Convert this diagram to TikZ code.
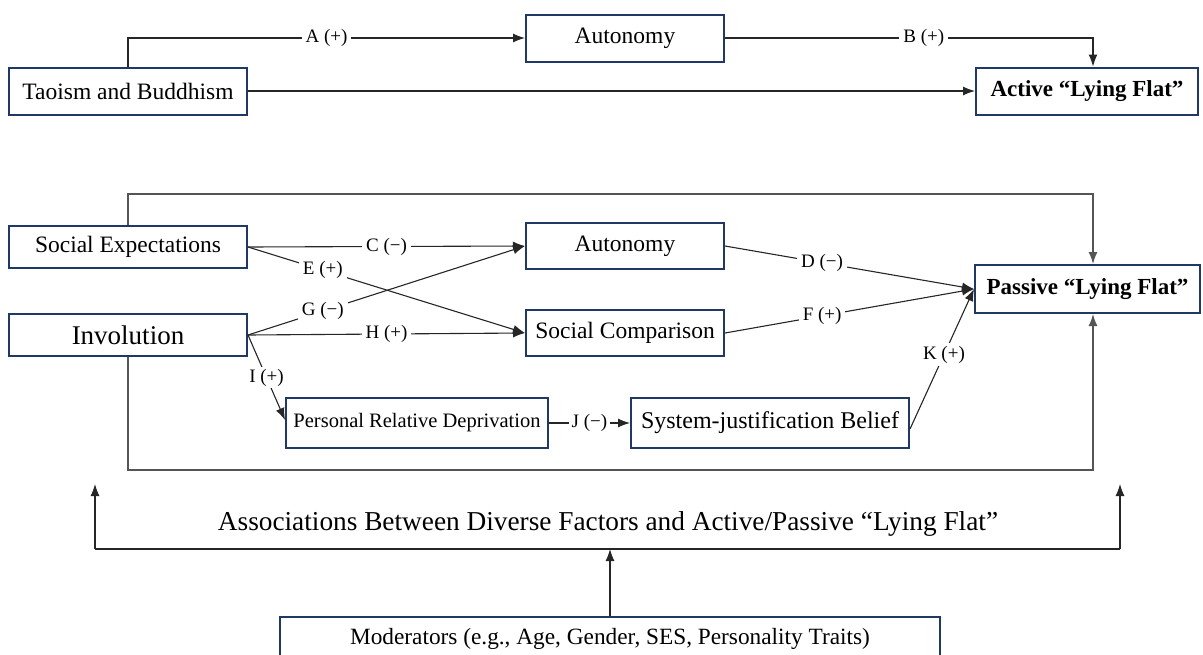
\documentclass[tikz,border=0pt]{standalone}
\usepackage{fontspec}
\setmainfont{Liberation Serif}
\usetikzlibrary{arrows.meta,calc}
\definecolor{boxc}{HTML}{1F3864}
\definecolor{framec}{HTML}{555555}
\begin{document}
\begin{tikzpicture}[x=1pt,y=1pt,
  box/.style={draw=boxc,line width=2pt,inner sep=0pt,minimum height=46pt,font=\fontsize{23.5}{28}\selectfont},
  lbl/.style={fill=white,inner sep=4pt,font=\fontsize{19}{22}\selectfont},
  conn/.style={draw=black!85,line width=1.1pt},
  arr/.style={conn,-{Latex[length=12pt,width=9pt]}},
  frame/.style={draw=framec,line width=1.4pt},
  farr/.style={frame,-{Latex[length=12pt,width=9pt]}}]
\useasboundingbox (0,0) rectangle (1203,-654);
% top
\node[box,minimum width=238pt,minimum height=47pt] (tb) at (128,-91) {Taoism and Buddhism};
\node[box,minimum width=198pt,minimum height=47pt] (aut1) at (625,-38) {Autonomy};
\node[box,minimum width=222pt,minimum height=47pt,font=\fontsize{23}{28}\selectfont\bfseries] (act) at (1087,-91) {Active “Lying Flat”};
\draw[arr] (tb.north) |- node[lbl,pos=0.75]{A (+)} (aut1.west);
\draw[arr] (aut1.east) -| node[lbl,pos=0.27]{B (+)} ([xshift=6pt]act.north);
\draw[arr] (tb.east) -- (act.west);
% middle
\node[box,minimum width=238pt,minimum height=42pt] (se) at (128,-247) {Social Expectations};
\node[box,minimum width=238pt,minimum height=42pt,font=\fontsize{27}{32}\selectfont] (inv) at (128,-335) {Involution};
\node[box,minimum width=198pt] (aut2) at (625,-246) {Autonomy};
\node[box,minimum width=198pt] (sc) at (625,-333) {Social Comparison};
\node[box,minimum width=225pt,minimum height=48pt,font=\fontsize{23}{28}\selectfont\bfseries] (pas) at (1087.5,-289) {Passive “Lying Flat”};
\node[box,minimum width=262pt,minimum height=50pt,font=\fontsize{20.5}{24}\selectfont] (prd) at (417,-423) {Personal Relative Deprivation};
\node[box,minimum width=278pt,minimum height=50pt,font=\fontsize{24}{28}\selectfont] (sjb) at (770,-423) {System-justification Belief};
\draw[arr] (se.east) -- node[lbl]{C (−)} (aut2.west);
\draw[arr] (se.east) -- node[lbl,pos=0.27]{E (+)} (sc.west);
\draw[arr] (inv.east) -- node[lbl,pos=0.27]{G (−)} (aut2.west);
\draw[arr] (inv.east) -- node[lbl]{H (+)} (sc.west);
\coordinate (ie) at ($(prd.west)+(0,3)$);
\draw[arr] (inv.east) -- node[lbl,pos=0.5,inner sep=2pt]{I (+)} (ie);
\draw[arr] (prd.east) -- node[lbl,inner sep=3pt]{J (−)} (sjb.west);
\draw[arr] (aut2.east) -- node[lbl,pos=0.39]{D (−)} (pas.west);
\draw[arr] (sc.east) -- node[lbl,pos=0.39]{F (+)} (pas.west);
\coordinate (sjbr) at ($(sjb.east)+(0,-6)$);
\draw[arr] (sjbr) -- node[lbl,pos=0.53,inner sep=3pt]{K (+)} (pas.west);
\draw[farr] (se.north) -- ++(0,31) -| ([xshift=5.5pt]pas.north);
\coordinate (fb) at (130,-470);
\draw[farr] (inv.south) -- (inv.south |- fb) -| ([xshift=5.5pt]pas.south);
% bottom
\coordinate (bl) at (95,-549);
\coordinate (br) at (1120,-549);
\coordinate (tl) at (95,-484);
\coordinate (tr) at (1120,-484);
\node[font=\fontsize{27.3}{32}\selectfont] (assoc) at (608,-524) {Associations Between Diverse Factors and Active/Passive “Lying Flat”};
\node[box,minimum width=660pt,minimum height=44pt,font=\fontsize{23.3}{27}\selectfont] (mod) at (610,-639) {Moderators (e.g., Age, Gender, SES, Personality Traits)};
\draw[conn] (bl) -- (br);
\draw[arr] (bl) -- (tl);
\draw[arr] (br) -- (tr);
\draw[arr] (mod.north) -- (mod.north |- bl);
\end{tikzpicture}
\end{document}
